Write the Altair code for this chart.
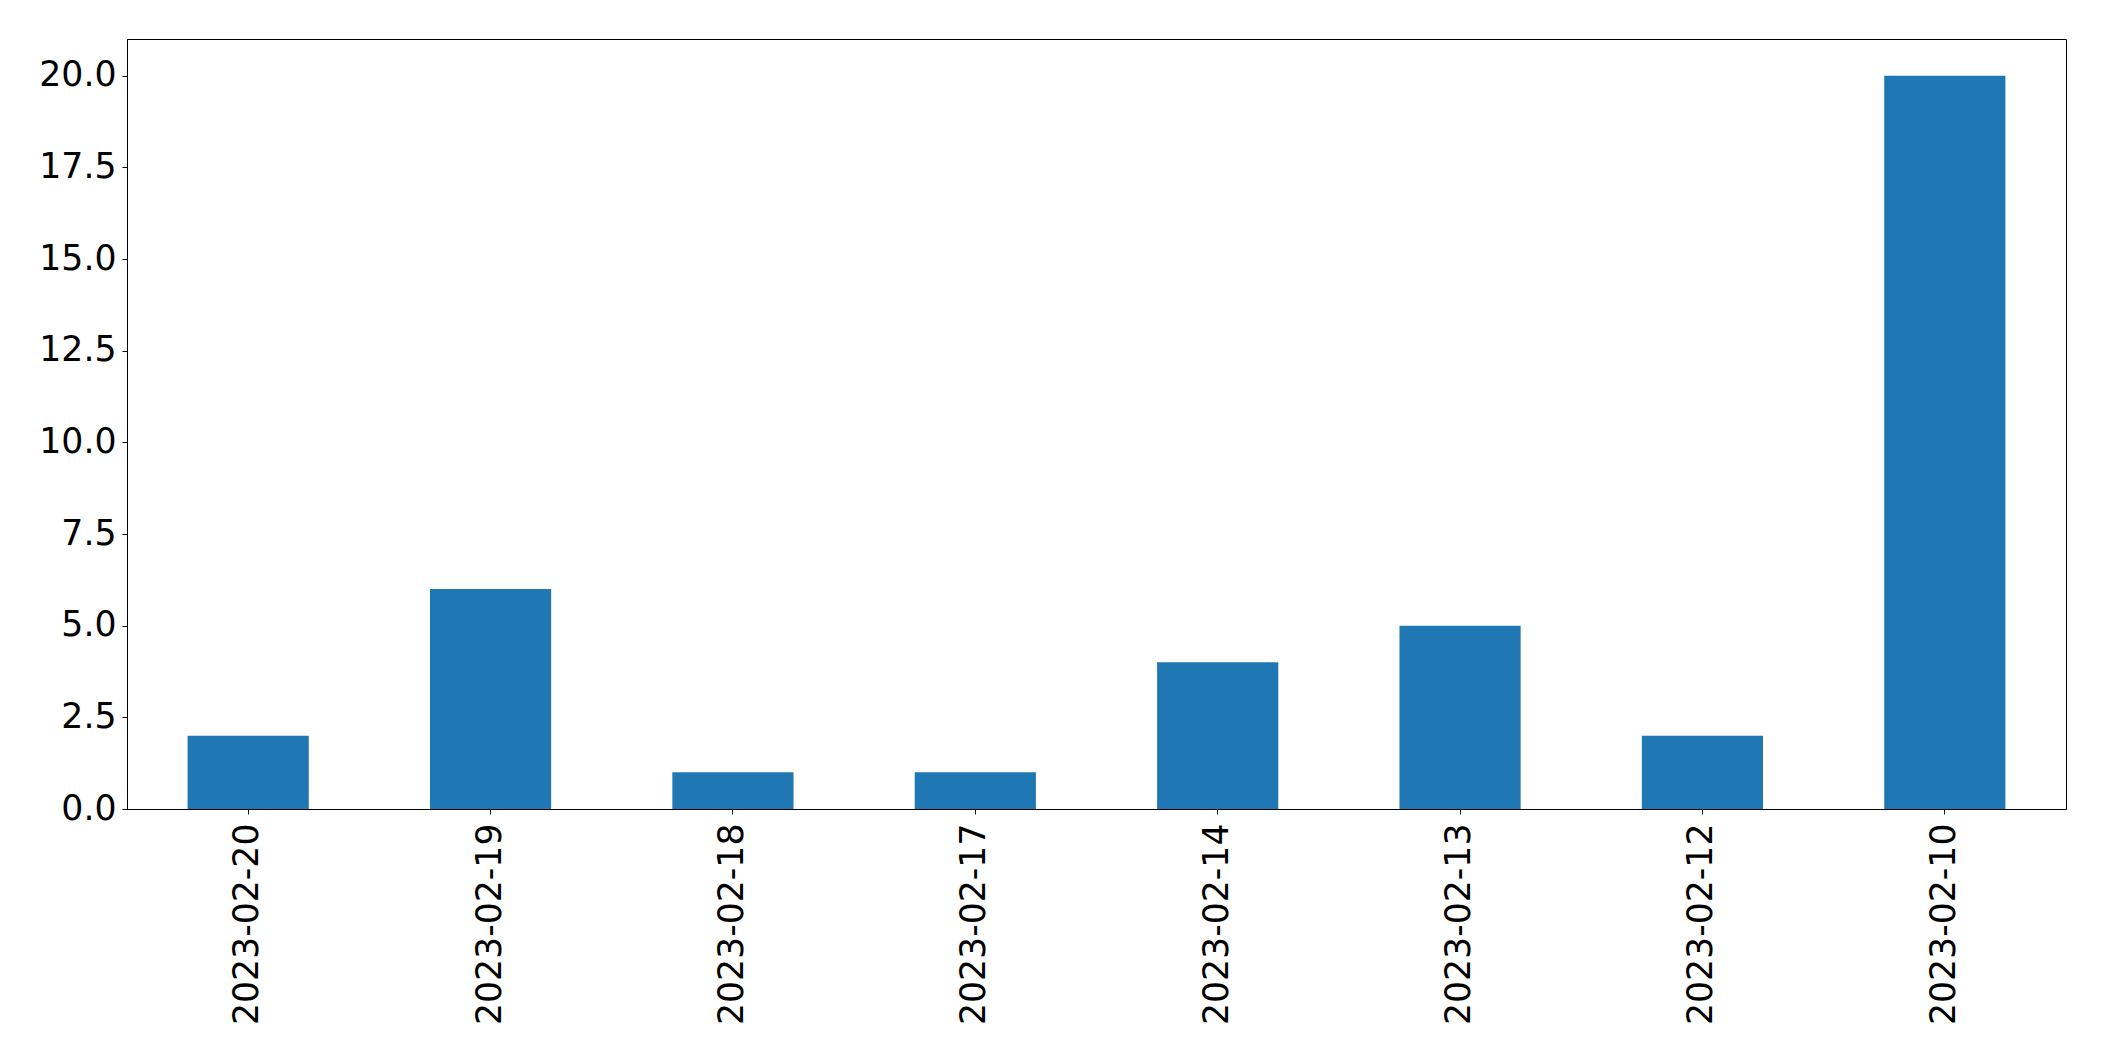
import altair as alt
import pandas as pd

dates = ["2023-02-20", "2023-02-19", "2023-02-18", "2023-02-17",
         "2023-02-14", "2023-02-13", "2023-02-12", "2023-02-10"]
counts = [2, 6, 1, 1, 4, 5, 2, 20]
y_ticks = [0, 2.5, 5, 7.5, 10, 12.5, 15, 17.5, 20]

df = pd.DataFrame({"date": dates, "count": counts})

FONT = "DejaVu Sans"
FS = 34.7

chart = alt.Chart(df).mark_bar(color="#1f77b4").encode(
    x=alt.X("date:N", sort=dates, title=None,
            scale=alt.Scale(paddingInner=0.5, paddingOuter=0.25),
            axis=alt.Axis(labelAngle=-90, labelFont=FONT, labelFontSize=FS,
                          labelColor="black", tickColor="black", tickSize=5,
                          tickWidth=1, domainColor="black", domainWidth=1,
                          labelPadding=9, labelLimit=1000, grid=False)),
    y=alt.Y("count:Q", title=None,
            scale=alt.Scale(domain=[0, 21], nice=False, zero=True),
            axis=alt.Axis(values=y_ticks, format=".1f", labelFont=FONT,
                          labelFontSize=FS, labelColor="black",
                          tickColor="black", tickSize=5, tickWidth=1,
                          domainColor="black", domainWidth=1,
                          labelPadding=6, labelLimit=1000, grid=False)),
).properties(
    width=1939,
    height=770,
    autosize=alt.AutoSizeParams(type="none"),
    padding={"left": 127, "top": 39, "right": 38, "bottom": 252},
    background="white",
).configure_view(stroke="black", strokeWidth=1)

chart.save("out.html", embed_options={"renderer": "svg", "actions": False})
